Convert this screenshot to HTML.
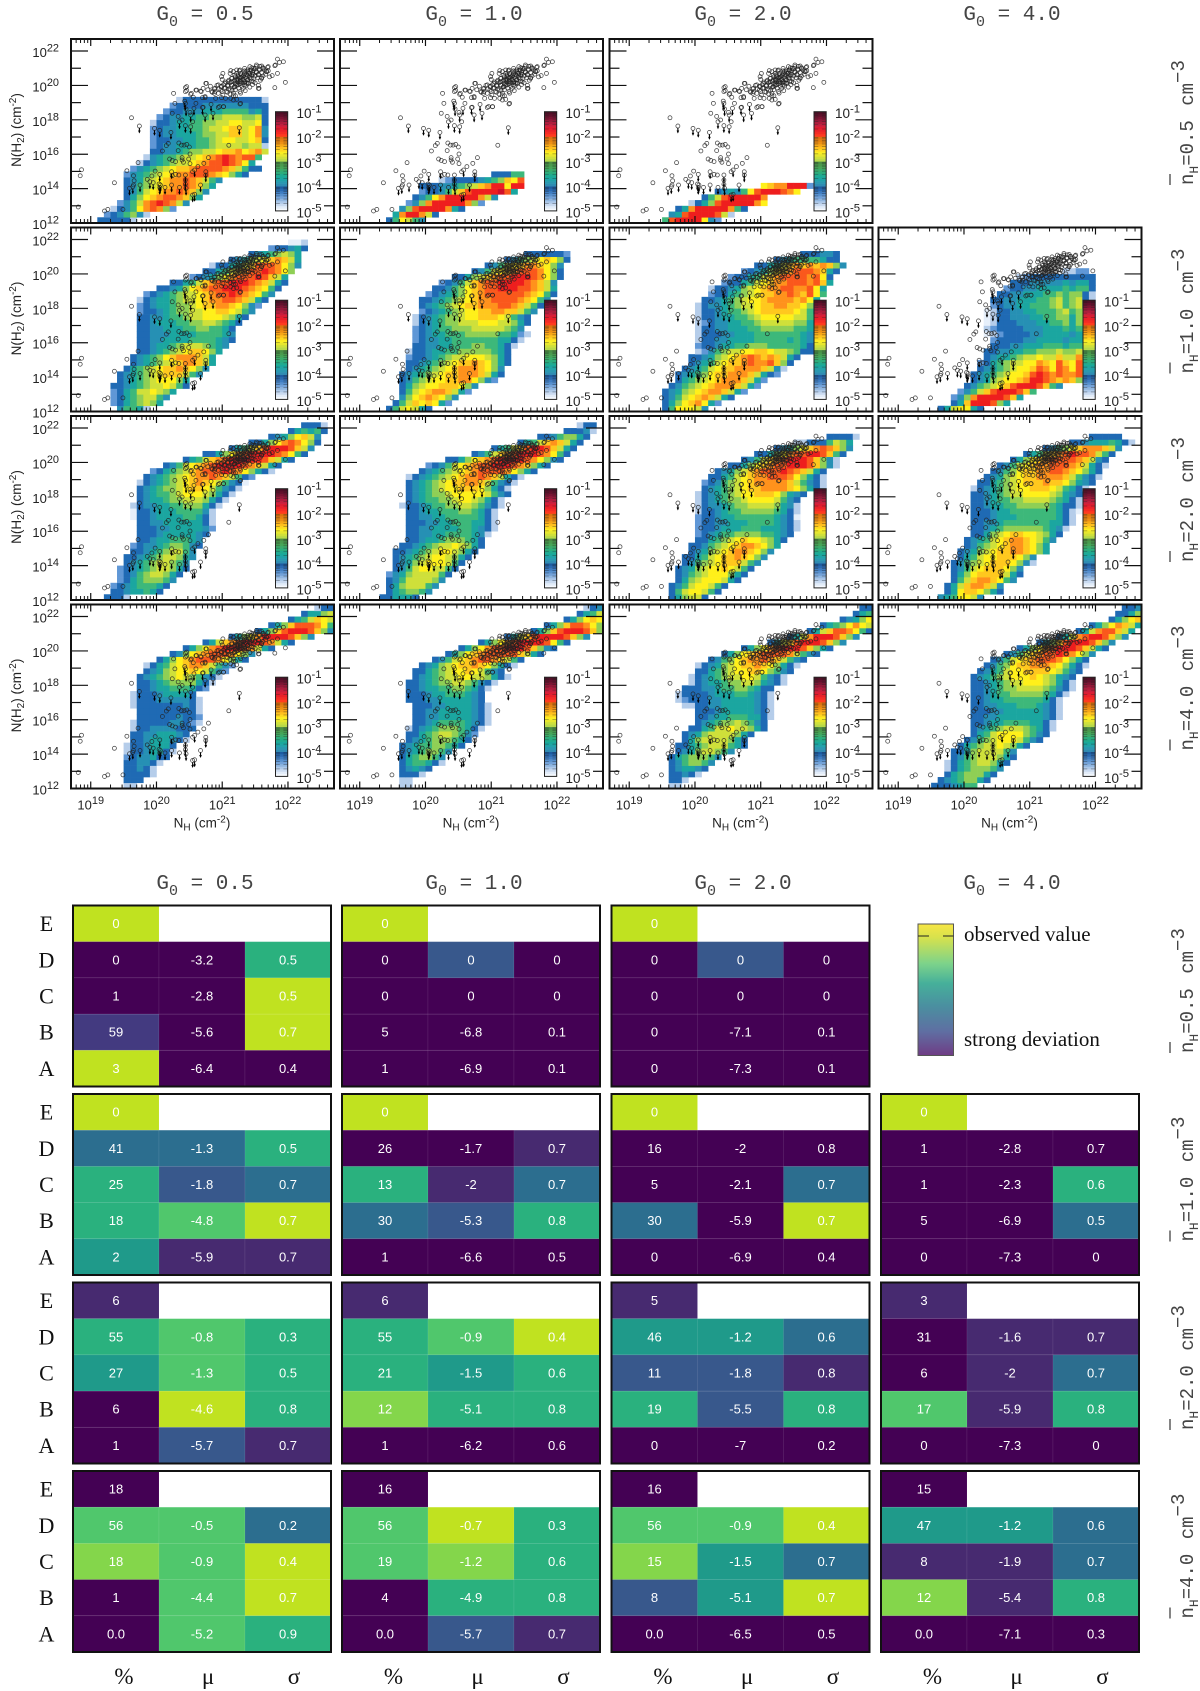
<!DOCTYPE html>
<html lang="en">
<head>
<meta charset="utf-8">
<title>N(H2) versus NH distributions and deviation tables</title>
<style>
html,body{margin:0;padding:0;background:#fff;width:1200px;height:1691px;overflow:hidden}
svg{display:block}
.ax{font-family:"Liberation Sans",sans-serif;fill:#222}
.mono{font-family:"Liberation Mono",monospace;fill:#444}
.ser{font-family:"Liberation Serif",serif;fill:#111}
</style>
</head>
<body>
<svg id="fig" xmlns="http://www.w3.org/2000/svg" width="1200" height="1691" viewBox="0 0 1200 1691">
<defs>
<linearGradient id="legendGrad" x1="0" y1="0" x2="0" y2="1">
<stop offset="0" stop-color="#f7e645"/><stop offset="0.1" stop-color="#d8e24c"/><stop offset="0.3" stop-color="#7dd38a"/><stop offset="0.45" stop-color="#46b09a"/><stop offset="0.62" stop-color="#4a90a0"/><stop offset="0.82" stop-color="#5f6ea2"/><stop offset="1" stop-color="#6f3c85"/>
</linearGradient>
</defs>
<rect width="1200" height="1691" fill="#fff"/>
<g id="heatBlock"></g>
<g id="tableBlock"></g>
<g>
<rect x="918" y="924" width="35.5" height="131.5" fill="url(#legendGrad)" stroke="#555" stroke-width="1"/>
<line x1="918" x2="929" y1="936" y2="936" stroke="#222" stroke-width="1"/>
<line x1="943" x2="953.5" y1="936" y2="936" stroke="#222" stroke-width="1"/>
<text class="ser" x="964" y="941" font-size="21">observed value</text>
<text class="ser" x="964" y="1046" font-size="21">strong deviation</text>
</g>
</svg>
<script>
// ---------- shared axis data ----------
const gLabels = ['0.5','1.0','2.0','4.0'];
const nLabels = ['0.5','1.0','2.0','4.0'];
const xTickDecades = [19,20,21,22];
const yTickDecades = [12,13,14,15,16,17,18,19,20,21,22];
const cbDecades = [-1,-2,-3,-4,-5];
const tableRowNames = ['E','D','C','B','A'];
const tableColNames = ['%','\u03bc','\u03c3'];

// ---------- heat level colours ----------
const heatColors = {'0':'#e6effa','1':'#b5cdea','2':'#5f97d6','3':'#1f6ab4','4':'#2690b4','5':'#1ba6a0','6':'#3db87a','7':'#8fcf55','8':'#cfe03a','9':'#fff01a','a':'#ffc81e','b':'#ff921c','c':'#fa581c','d':'#ee1e1e','e':'#d0102a'};
const tableColors = ['#440154','#472a70','#433a80','#38588c','#2c6e8f','#1f9a8a','#2ab17e','#50c76c','#84d64b','#c0e220'];

// ---------- observations (log10 NH, log10 N(H2)) ----------
const detNH = [18.81,19.21,19.26,19.49,18.84,18.86,19.36,19.55,19.72,19.65,19.66,19.65,19.62,19.86,19.93,19.98,20.24,20.29,20.34,20.55,20.63,20.72,20.79,20.20,20.24,20.29,20.39,20.39,20.41,20.49,20.51,20.09,20.15,20.18,20.34,20.38,20.42,20.46,20.50,20.33,20.51,21.10,20.26,20.24,20.28,20.33,20.44,20.44,20.52,20.60,20.67,20.75,20.56,20.60,20.55,20.51,20.39,20.70,20.74,20.94,21.02,20.90,20.88,20.99,21.05,21.27,21.13,21.17,21.22,21.55,21.80,21.96,21.93,21.84,21.87,21.80,21.84,21.76,21.68,21.60,21.57,21.62,21.69,21.52,21.45,21.39,
20.95,20.98,21.0,21.02,21.05,21.05,21.08,21.08,21.1,21.1,21.12,21.12,21.15,21.15,21.15,21.18,21.18,21.2,21.2,21.2,21.22,21.22,21.24,21.24,21.25,21.26,21.27,21.28,21.28,21.3,21.3,21.3,21.32,21.33,21.34,21.35,21.36,21.36,21.38,21.38,21.4,21.4,21.42,21.43,21.44,21.45,21.46,21.48,21.48,21.5,21.5,21.52,21.54,21.55,21.56,21.58,21.6,21.62,21.64,21.66,21.7,21.72,21.55,21.28,21.2,21.35,21.42,21.0,20.92,20.88,20.85,20.82,20.78,21.46,21.34,21.26,21.22,
20.89,20.94,20.99,21.04,21.09,21.14,21.19,21.22,21.24,21.27,21.29,21.32,21.34,21.37,21.39,21.42,21.44,21.47,21.50,21.52,21.57,21.62,21.67,21.70,21.24,21.29,21.34,21.14,21.19,21.12,21.17,21.27,21.22,21.34,21.42,21.52,21.60,21.39,21.44,21.47,21.32,21.27,21.17,21.17,21.28,21.12,21.06,21.01,20.94,20.89,20.84,20.76,20.71,20.68,20.53,20.61,20.46,20.46,20.74,20.96,21.02,20.71,20.99,21.01,21.13,21.34,21.37,21.24,21.28,21.32,21.37,21.42,21.22,21.14,21.09,21.03,20.98,21.19,21.39,21.47,21.55,21.60,21.56,21.81];
const detNH2 = [12.93,12.70,12.79,12.79,14.75,15.10,14.34,15.04,15.51,14.75,14.46,14.21,18.12,14.54,14.73,15.02,14.75,14.83,14.79,14.98,15.28,15.47,15.80,15.72,15.64,15.57,15.80,15.66,15.53,15.72,15.45,16.19,16.50,16.63,16.65,16.53,16.53,16.57,16.42,16.21,16.01,16.52,19.54,18.38,18.96,18.20,19.87,19.64,19.48,19.73,19.67,20.12,19.31,18.96,17.89,18.43,17.99,19.29,19.29,18.72,18.76,19.25,19.54,19.29,19.25,18.92,19.25,19.40,19.19,19.83,19.87,20.18,21.38,21.53,21.34,21.15,20.70,20.57,20.80,20.45,21.11,21.03,21.05,21.09,21.03,20.90,
19.8,19.95,19.65,20.05,19.85,20.2,19.6,20.0,20.3,19.8,20.15,19.5,20.4,20.0,19.7,20.25,19.9,20.5,20.1,19.75,20.35,20.0,20.6,20.2,19.85,20.45,20.1,20.3,20.7,20.2,20.5,19.95,20.35,20.6,20.15,20.45,20.8,20.0,20.3,20.55,20.7,20.15,20.45,20.9,20.25,20.6,20.75,20.4,21.0,20.55,20.15,20.8,20.45,20.65,20.95,20.3,20.75,20.55,20.9,20.65,20.85,20.5,20.0,19.55,19.4,19.7,19.9,20.35,20.0,19.8,19.6,19.95,19.75,20.05,20.85,20.85,20.7,
19.83,20.03,19.93,20.12,20.22,20.03,20.32,20.12,20.51,20.22,20.61,20.32,20.70,20.41,20.80,20.55,20.90,20.66,20.99,20.74,20.90,20.99,20.80,21.09,20.03,20.12,20.03,20.41,20.61,20.70,20.80,20.90,20.90,20.99,21.09,21.19,21.13,20.32,20.41,20.22,19.83,19.64,19.54,19.15,18.96,19.73,19.64,19.44,19.54,19.64,19.64,20.12,19.83,19.64,19.54,19.73,19.93,19.70,19.35,18.77,18.77,18.73,20.51,20.70,20.86,20.22,20.12,20.35,20.47,20.55,20.66,20.70,20.28,20.22,19.97,19.83,19.73,19.93,20.12,20.86,20.61,20.41,19.83,21.19];
const limNH = [19.74,19.97,20.05,20.22,19.59,19.64,19.75,19.90,19.95,20.05,20.04,20.05,20.06,20.13,20.23,20.23,20.35,20.44,20.44,20.44,20.45,20.55,20.58,20.67,20.75,20.75,20.58,21.26,20.35,20.43,20.44,20.45,20.52,20.57,20.44,20.52,20.70,20.74,20.86,20.83];
const limNH2 = [17.64,17.50,17.39,17.27,14.02,14.11,14.21,14.40,14.35,14.83,14.27,14.07,14.21,14.07,14.21,14.98,14.07,14.79,14.50,14.25,14.02,13.63,13.67,14.21,14.98,14.79,15.08,17.54,17.89,19.09,18.96,18.63,18.28,18.67,17.66,17.60,18.71,18.28,18.38,18.90];

// ---------- heatmap grids: each row "startColumn levels", bottom row first ----------
const heat_n05_g05 = ['4 333331','5 2346741','6 13469bcb72','7 2468bcdcb84','8 3579abccba75','8 34689abbcba74','8 346789abbcba75','8 345789abbcba864','8 2456789abbcccba9753','9 2456789aabccccba8633','10 134567889abccdcb95','11 145667889abcdcbcc6','12 33445677889aab9ab8','12 234455566788887881','12 2334455667899889a3','12 234455567788aa89b4','12 234455667889aa89b4','12 133455667788998893','13 23445566778887783','14 2334445556666453','15 233334444444333','16 13333333333331'];
const heat_n05_g10 = ['7 369864','8 5bddb83','9 47cddddb53','10 247bdddddb72','11 3469bdddddb84','12 233468acddddec5','12 333445678abdd9dd','15 1233334567a9c','23 33366'];
const heat_n05_g20 = ['8 6cdddd942','9 45cddddc81','10 35bdddddb63','12 1357cdddddb9','14 368cdddddb','16 345469cdddcb9','23 9abbddd2'];
const heat_n10_g05 = ['7 46651','6 23567875','6 235678864','6 2356889875','6 334567889863','7 34567899975','7 3456789aaa864','8 356789aaba974','9 3456789abba85','9 345679abbba85','10 33456789aa975','10 33455678887654','10 334455556666543','10 334445555666654','10 334455566776653','10 3345556677887653','10 33445667889998753','10 233456778899aa9864','10 2345567789aabba9742','10 1345567889abbccba853','11 234567889abccdcba964','13 334579abccdddcba963','15 33568abccdddcba853','18 234579bcccdca85','20 33568abccdcb97','21 133568acccb974','24 345789aba85','27 34567875','30 233453','33 001'];
const heat_n10_g10 = ['7 3689853','8 368a9a952','9 479aba974','9 3689abba852','9 357899aaa974','9 3467899aabb9742','9 3456789aabbba853','10 3456789abbba974','10 33456789aaba9753','10 2334567889998753','10 1334556677777653','11 3344556667766531','11 23445566666665531','11 234556667777766521','11 23456677788888764','11 134567788899988753','11 1345677899aaa98643','12 234567899aabbaa864','12 3456789aabbbccba863','12 3345678 9abbccccba964','13 234567 9abccccccba963','14 33467 9abccdddccba85','15 23468abccddddcba84','17 33578abccdddcb973','20 34689abcccb973','22 34689abba974','25 3467 89a973','28 3333332'];
const heat_n10_g20 = ['8 3699984','8 357 9ab952','8 34689aba853','8 3457 89abba852','9 346789abbba852','10 356789abbba852','10 3456 79aabbba8532','11 345689aabbbba841','12 345689aabcbbca73','12 33457 89abcbaba853','13 124678899aa9887633','13 233455667776666653','13 133445555666665654','13 133344555666666654','13 133445556677777665','13 123445566788888775','13 133455667899999886','13 1334566789aaaaa9863','13 1344567889aabbaa973','14 33456789 9abbbbab95','15 233567 89aabbcbac96','15 13345789abbccbbc95','17 233568 9abbcccbca5','18 233568abccccbc93','20 234579abcccba53','22 335 68abababa74','25 3456666533','29 333443'];
const heat_n10_g40 = ['9 3589953','11 35adddc75','11 247bddddca5','12 24 68acdddca6','13 3467 89acdddca64','14 3457 899abddcbaba72','14 345678 99acdcbcbbc84','15 3456 7899acb9cb9c95','15 235678899ba9ca9c96','16 3455678898 8a88b84','16 33445566777877874','17 3334455566656663','17 2333344555545553','16 01233334455554553','16 12333344455565663','16 01333444556675773','16 01334445566775783','16 01334455666786783','17 2344556 6678678 31','17 3344555667867831','18 33445556676773 1','19 2334455556566 3','20 3334444454553','21 123333333333','28 1122'];
const heat_n20_g05 = ['5 3331','6 33455653','6 234566653','7 235677764','7 2346788753','7 23456788753','8 3456788764','8 33456788754','9 3345678864','9 23445677643','10 3345566654','10 33345555543','10 333445555542','10 334455555531','9 0334555566531','9 0334555666641','9 13445566777531','10 34556778887531','10 345667899987531','10 3456778 9aa98643 1','10 13456789aba98643 0','11 34567 89abbcba86 32','12 2356 78abcccdcb97531','14 34689abcddddcba853','17 356 8abcddeddca853','20 33579bcddddcb963','24 35 68acdddca84','27 3357 9bcb973','30 34579a84','33 356563','35 3331'];
const heat_n20_g10 = ['6 335553','7 3567764','7 35788864','7 346888874','7 2457888863','8 3468998863','8 34578999863','8 345678998753','8 3345678998753','9 3345678898753','10 334556777653','10 3344556666541','10 33445555665431','10 33344556665531','10 33445566666531','10 33455666776531','9 1334566778876431','10 345667789987531','10 3456778 999998643','10 3456789 9aaa97531','10 34567 89aabba86431','10 134567 89abbcba85 31','12 345678 9abccccb97 53','13 234689abccdddcba753','16 33579abcddddcb9743','20 34 68abcdddcb963','23 3568acddca853','27 3568aba853','30 33467753','34 33341','36 133'];
const heat_n20_g20 = ['9 357883','9 36899863','9 346899863','10 3578999853','10 34678 99975 3','10 34 5789 9a98 63','11 346789aaa864','11 33568 9aaba974','12 3457 89abba974','12 33467 89abba975','13 33567 89a99 87 53','13 234566777766543','13 2334555666555431','13 2334 4555666 65431','13 2334556666665430','13 1334566777776531','13 1344567788887541','13 13456778999986 43','13 134567899aaa97543','14 345678 9aabbbba97531','14 234678 9abbbbba86431','15 33568 9abbcccb97531','16 34578abcccdcba853','18 33579abccdddca741','20 34 68abcdddca741','22 33579bccddca63','25 34579abcba74','28 11333687 5','33 33331'];
const heat_n20_g40 = ['9 4569984','10 359aa9753','10 358abba84','11 368abba964','11 3579aaaa853','11 3468 9aaa974','11 34678 9aaa9741','12 3568 99aaa974','12 34 5789aabba975','13 346789abba975','13 34 5689abba9864','14 335789aa99 8753','14 334567777776541','14 3344566666665531','14 3334555666666531','14 33345566666665310','14 33455667777765331','14 33456677888876531','14 334567889999 87543','14 134567899aaa986531','15 33567 89aaabaa97543','16 34578 9aabbbba86431','17 34679aabbccba97 53','18 34689abbcccba8531','20 3579abccccba843','22 35 68abcdccb863','25 34679abbba84','29 334555 6531','32 33333'];
const heat_n40_g05 = ['8 11','8 333','8 33331','8 334 31','8 334431','8 2344533','8 13345531','8 13345553','9 334555431','9 334455543','9 1334444333','9 13333344321','10 3333334332','10 3333333331','9 13333333431','9 13334444431','9 1333455553','10 33455666532','10 334567777531','10 3456789876431','11 34578 99a98642','11 13568 9abba8642','13 3579abcccb9753','15 347 9abcccb974','17 3579bcdddcb853','20 358abcdddcb853','24 3579bddddca74','28 357acdddca74','30 357acccb963','33 3568a98','35 35578','37 133'];
const heat_n40_g10 = ['9 11','9 11','9 3331','9 34543','9 3566531','9 356776 4','9 34567764','9 3456677653','10 3456777653','10 33567887642','10 134567776531','11 334566665431','11 334455555431','11 334455555431','11 333445555431','10 333445555543','10 333455666 543','10 3345566776531','10 33456778876431','11 34567889988 7531','11 335678 99a986 43','12 345 789aaba97531','14 34689abccba863','16 3579abccccca853','18 3579bccdddca743','21 3579bcddddc963','25 358acddddca74','29 357acdddca74','31 357accb974','34 3579a9','36 3568','37 134'];
const heat_n40_g20 = ['9 11','9 331','9 33431','9 345543','9 3467764','9 35677764','10 345788764','10 33567888653','11 3578888753','11 34578888753','12 335688988753','13 34567787643','13 334556665531','13 333455555431','11 11334455555431','10 123334455555431','10 13333455566 5431','11 33344566776533','12 134556778875431','12 13456788998 6431','13 33567899aa97643','13 1345789aaba97531','15 34679abbcba8643','17 3579abccccb8643','20 3579bcdddca753','24 358acdddca74','27 358bdddca74','30 358accb963','32 35679b985 3','35 34579','37 356','38 33'];
const heat_n40_g40 = ['8 3334566','9 34567753','10 35677753','10 135677764','10 1356788753','11 3467888753','11 3357888864','12 35678898753','13 346789998643','14 356899997643','14 3456788876531','14 3345566665531','14 33445555555431','14 33344555555431','14 33445556665431','14 33455666666531','14 334566777776531','14 3345677888876431','14 3345678899987531','14 345678999a987543','15 345689 9aaaa98643','16 346 79aabbba97531','17 34689abcccb97 53','19 34 68abccdcb974','21 3579bcdddca853','24 357acdddca74','27 358bcddca74','30 358bcca85','32 3579ba85','35 3579a','36 3357','37 334'];
const heatPanels = [
 [heat_n05_g05, heat_n05_g10, heat_n05_g20, null],
 [heat_n10_g05, heat_n10_g10, heat_n10_g20, heat_n10_g40],
 [heat_n20_g05, heat_n20_g10, heat_n20_g20, heat_n20_g40],
 [heat_n40_g05, heat_n40_g10, heat_n40_g20, heat_n40_g40]];

// ---------- colour bar samples (log10 fraction, colour) ----------
const cbLog = [-5,-4.9,-4.8,-4.7,-4.6,-4.5,-4.4,-4.3,-4.2,-4.1,-4,-3.9,-3.8,-3.7,-3.6,-3.5,-3.4,-3.3,-3.2,-3.1,-3,-2.9,-2.8,-2.7,-2.6,-2.5,-2.4,-2.3,-2.2,-2.1,-2,-1.9,-1.8,-1.7,-1.6,-1.5,-1.4,-1.3,-1.2,-1.1];
const cbCol = ['#f6f9fd','#e2ecf8','#c9daf0','#adc8e8','#90b6e0','#73a2d8','#5790ce','#3f7dc2','#2a6ab2','#1c5ca2','#2f8cb2','#2a98b0','#20a2a8','#1aa89c','#20ab8e','#2dad7c','#3cab6a','#46a558','#4a9a4e','#4a8f45','#b8d94a','#cfe03c','#e8e72e','#fbee22','#ffd820','#ffc01e','#f7a718','#ee9014','#e58010','#de700e','#ff3a20','#f42c24','#ea2028','#de1c30','#c81e3c','#ae1c3c','#941838','#7c1433','#64102c','#520e27'];

// ---------- deviation tables: rows E,D,C,B,A ----------
const tbl_n05_g05=['0','0 -3.2 0.5','1 -2.8 0.5','59 -5.6 0.7','3 -6.4 0.4'], lev_n05_g05=['9','006','009','209','900'];
const tbl_n05_g10=['0','0 0 0','0 0 0','5 -6.8 0.1','1 -6.9 0.1'], lev_n05_g10=['9','030','000','000','000'];
const tbl_n05_g20=['0','0 0 0','0 0 0','0 -7.1 0.1','0 -7.3 0.1'], lev_n05_g20=['9','030','000','000','000'];
const tbl_n10_g05=['0','41 -1.3 0.5','25 -1.8 0.7','18 -4.8 0.7','2 -5.9 0.7'], lev_n10_g05=['9','446','634','679','511'];
const tbl_n10_g10=['0','26 -1.7 0.7','13 -2 0.7','30 -5.3 0.8','1 -6.6 0.5'], lev_n10_g10=['9','001','614','436','000'];
const tbl_n10_g20=['0','16 -2 0.8','5 -2.1 0.7','30 -5.9 0.7','0 -6.9 0.4'], lev_n10_g20=['9','000','004','409','000'];
const tbl_n10_g40=['0','1 -2.8 0.7','1 -2.3 0.6','5 -6.9 0.5','0 -7.3 0'], lev_n10_g40=['9','000','006','004','000'];
const tbl_n20_g05=['6','55 -0.8 0.3','27 -1.3 0.5','6 -4.6 0.8','1 -5.7 0.7'], lev_n20_g05=['1','676','576','096','031'];
const tbl_n20_g10=['6','55 -0.9 0.4','21 -1.5 0.6','12 -5.1 0.8','1 -6.2 0.6'], lev_n20_g10=['1','679','656','866','000'];
const tbl_n20_g20=['5','46 -1.2 0.6','11 -1.8 0.8','19 -5.5 0.8','0 -7 0.2'], lev_n20_g20=['1','554','331','636','000'];
const tbl_n20_g40=['3','31 -1.6 0.7','6 -2 0.7','17 -5.9 0.8','0 -7.3 0'], lev_n20_g40=['1','011','014','716','000'];
const tbl_n40_g05=['18','56 -0.5 0.2','18 -0.9 0.4','1 -4.4 0.7','0.0 -5.2 0.9'], lev_n40_g05=['0','774','879','079','076'];
const tbl_n40_g10=['16','56 -0.7 0.3','19 -1.2 0.6','4 -4.9 0.8','0.0 -5.7 0.7'], lev_n40_g10=['0','796','786','066','031'];
const tbl_n40_g20=['16','56 -0.9 0.4','15 -1.5 0.7','8 -5.1 0.7','0.0 -6.5 0.5'], lev_n40_g20=['0','779','854','359','000'];
const tbl_n40_g40=['15','47 -1.2 0.6','8 -1.9 0.7','12 -5.4 0.8','0.0 -7.1 0.3'], lev_n40_g40=['0','554','114','816','000'];
const tableValues=[[tbl_n05_g05,tbl_n05_g10,tbl_n05_g20,null],[tbl_n10_g05,tbl_n10_g10,tbl_n10_g20,tbl_n10_g40],[tbl_n20_g05,tbl_n20_g10,tbl_n20_g20,tbl_n20_g40],[tbl_n40_g05,tbl_n40_g10,tbl_n40_g20,tbl_n40_g40]];
const tableLevels=[[lev_n05_g05,lev_n05_g10,lev_n05_g20,null],[lev_n10_g05,lev_n10_g10,lev_n10_g20,lev_n10_g40],[lev_n20_g05,lev_n20_g10,lev_n20_g20,lev_n20_g40],[lev_n40_g05,lev_n40_g10,lev_n40_g20,lev_n40_g40]];

// ---------- helpers ----------
const NS='http://www.w3.org/2000/svg';
function mk(parent,tag,attrs){const e=document.createElementNS(NS,tag);for(const k in attrs)e.setAttribute(k,attrs[k]);parent.appendChild(e);return e;}
function label10(parent,exp,x,y,fs,anchor,cls){
  const t=mk(parent,'text',{x:x,y:y,'font-size':fs,'text-anchor':anchor,'class':cls||'ax'});
  t.innerHTML='10<tspan dy="'+(-fs*0.42)+'" font-size="'+(fs*0.84)+'">'+exp+'</tspan>';
  return t;
}
function rightLabel(parent,val,y){
  const t=mk(parent,'text',{transform:'translate(1193,'+y+') rotate(-90)','font-size':19,'class':'mono',style:'white-space:pre'});
  t.innerHTML='n<tspan dy="5" font-size="13">H</tspan><tspan dy="-5">='+val+' </tspan><tspan dx="3">cm</tspan><tspan dy="-9">\u22123</tspan>';
  
  
  const l=mk(parent,'line',{x1:1170,x2:1170,y1:y,y2:y-11,stroke:'#333','stroke-width':1.2});
  
  
}
function colTitle(parent,val,x,y){
  const t=mk(parent,'text',{x:x,y:y,'font-size':21,'text-anchor':'middle','class':'mono'});
  t.innerHTML='G<tspan dy="6" font-size="15">0</tspan><tspan dy="-6"> = '+val+'</tspan>';
  
  
}

// ---------- heat panels ----------
const panelX=[71,340,609.5,878.5], panelY=[39,227.5,416,604.5], PW=263, PH=184;
const xMin=18.7,xMax=22.7,yMin=12,yMax=22.7;
const binX=0.1,binY=1/3;
const heatRoot=document.getElementById('heatBlock');
gLabels.forEach((g,i)=>colTitle(heatRoot,g,205+269*i,20));
nLabels.forEach((n,i)=>rightLabel(heatRoot,n,185+188.5*i));

heatPanels.forEach((rowPanels,r)=>rowPanels.forEach((grid,c)=>{
  if(!grid)return;
  const px=panelX[c],py=panelY[r];
  const sx=v=>px+(v-xMin)/(xMax-xMin)*PW;
  const sy=v=>py+PH-(v-yMin)/(yMax-yMin)*PH;
  const g=mk(heatRoot,'g',{});
  
  
  const clipId='clip'+r+c;
  const cp=mk(g,'clipPath',{id:clipId});
  mk(cp,'rect',{x:px,y:py,width:PW,height:PH});
  const heat=mk(g,'g',{'clip-path':'url(#'+clipId+')'});
  
  
  grid.forEach((rowStr,j)=>{
    const sp=rowStr.indexOf(' ');
    const start=parseInt(rowStr.slice(0,sp),10);
    const levels=rowStr.slice(sp+1).replace(/ /g,'');
    for(let k=0;k<levels.length;k++){
      const x0=xMin+binX*(start+k), y0=yMin+binY*j;
      const cell=mk(heat,'rect',{x:sx(x0),y:sy(y0+binY),width:sx(x0+binX)-sx(x0)+0.3,height:sy(y0)-sy(y0+binY)+0.3,fill:heatColors[levels[k]]});
      
      
    }
  });
  // colour bar
  const barX=px+204.5,barW=12.2,barTop=py+72.7,barDec=24.8;
  const cy=v=>barTop+(-1-v)*barDec;
  const bar=mk(g,'g',{});
  
  
  cbLog.forEach((v,i)=>{
    const rc=mk(bar,'rect',{x:barX,y:cy(v+0.1),width:barW,height:barDec*0.1+0.3,fill:cbCol[i]});
    
    
  });
  [2,3,4,5,6,7,8,9].forEach(m=>{
    [-5,-4,-3,-2].forEach(d=>{
      const yy=cy(d+Math.log10(m));
      mk(bar,'line',{x1:barX,x2:barX+barW*0.35,y1:yy,y2:yy,stroke:'#222','stroke-opacity':0.45,'stroke-width':0.7});
      mk(bar,'line',{x1:barX+barW*0.65,x2:barX+barW,y1:yy,y2:yy,stroke:'#222','stroke-opacity':0.45,'stroke-width':0.7});
    });
  });
  mk(bar,'rect',{x:barX,y:barTop,width:barW,height:barDec*4,fill:'none',stroke:'#222','stroke-width':1});
  cbDecades.forEach(d=>{
    const t=label10(bar,String(d),px+225.5,cy(d)+6.5,13.5,'start');
    
    
  });
  // observations
  const pts=mk(g,'g',{'clip-path':'url(#'+clipId+')'});
  
  
  detNH.forEach((v,i)=>{
    const m=mk(pts,'circle',{cx:sx(v),cy:sy(detNH2[i]),r:2,fill:'none',stroke:'#222','stroke-width':0.75,'stroke-opacity':0.85});
    
    
  });
  limNH.forEach((v,i)=>{
    const X=sx(v),Y=sy(limNH2[i]);
    const m=mk(pts,'circle',{cx:X,cy:Y,r:2,fill:'none',stroke:'#222','stroke-width':0.75,'stroke-opacity':0.85});
    
    
    mk(pts,'line',{x1:X,x2:X,y1:Y+2,y2:Y+6.5,stroke:'#000','stroke-width':1.1});
    mk(pts,'path',{d:'M'+(X-1.3)+' '+(Y+4.5)+'L'+(X+1.3)+' '+(Y+4.5)+'L'+X+' '+(Y+7.5)+'Z',fill:'#000'});
  });
  // ticks
  const ticks=mk(g,'g',{stroke:'#111'});
  
  
  xTickDecades.forEach(d=>{
    [py,py+PH].forEach((yy,q)=>{
      const s=q?-1:1;
      mk(ticks,'line',{x1:sx(d),x2:sx(d),y1:yy,y2:yy+s*7,'stroke-width':1.2});
    });
  });
  for(let d=18;d<=22;d++)for(let m=2;m<=9;m++){
    const v=d+Math.log10(m);
    if(v<xMin||v>xMax)continue;
    mk(ticks,'line',{x1:sx(v),x2:sx(v),y1:py,y2:py+4,'stroke-width':1});
    mk(ticks,'line',{x1:sx(v),x2:sx(v),y1:py+PH,y2:py+PH-4,'stroke-width':1});
  }
  yTickDecades.forEach(d=>{
    const len=d%2?10:17;
    mk(ticks,'line',{x1:px,x2:px+len,y1:sy(d),y2:sy(d),'stroke-width':1.2});
    mk(ticks,'line',{x1:px+PW,x2:px+PW-len,y1:sy(d),y2:sy(d),'stroke-width':1.2});
  });
  const frame=mk(g,'rect',{x:px,y:py,width:PW,height:PH,fill:'none',stroke:'#111','stroke-width':2});
  
  
  // labels
  if(c===0){
    yTickDecades.filter(d=>d%2===0).forEach(d=>{
      const t=label10(g,String(d),59,sy(d)+6,13,'end');
      
      
    });
    const yt=mk(g,'text',{transform:'translate(21,'+(py+91)+') rotate(-90)','font-size':13.5,'text-anchor':'middle','class':'ax'});
    yt.innerHTML='N(H<tspan dy="3" font-size="10">2</tspan><tspan dy="-3">) (cm</tspan><tspan dy="-5" font-size="10">-2</tspan><tspan dy="5">)</tspan>';
    
    
  }
  if(r===3){
    xTickDecades.forEach(d=>{
      const t=label10(g,String(d),sx(d),py+PH+21,13,'middle');
      
      
    });
    const xt=mk(g,'text',{x:px+131,y:py+PH+39,'font-size':13.5,'text-anchor':'middle','class':'ax'});
    xt.innerHTML='N<tspan dy="3" font-size="10">H</tspan><tspan dy="-3"> (cm</tspan><tspan dy="-5" font-size="10">-2</tspan><tspan dy="5">)</tspan>';
    
    
  }
}));

// ---------- tables ----------
const tabX=[73,342,611.5,881], tabY=[905.5,1094,1282.5,1471], TW=258, TH=181;
const tableRoot=document.getElementById('tableBlock');
gLabels.forEach((g,i)=>colTitle(tableRoot,g,205+269*i,889));
nLabels.forEach((n,i)=>rightLabel(tableRoot,n,1053+188.5*i));
const colOffsets=[124,208,294];
[0,1,2,3].forEach(c=>colOffsets.forEach((o,k)=>{
  const t=mk(tableRoot,'text',{x:o+269.5*c,y:1684,'font-size':23,'text-anchor':'middle','class':'ser'});
  t.textContent=tableColNames[k];
  
  
}));
tabY.forEach((ty,r)=>tableRowNames.forEach((n,k)=>{
  const t=mk(tableRoot,'text',{x:46.5,y:ty+TH/5*(k+0.5)+7.5,'font-size':22,'text-anchor':'middle','class':'ser'});
  t.textContent=n;
  
  
}));
tableValues.forEach((rowT,r)=>rowT.forEach((vals,c)=>{
  if(!vals)return;
  const lv=tableLevels[r][c];
  const x0=tabX[c],y0=tabY[r],cw=TW/3,ch=TH/5;
  const g=mk(tableRoot,'g',{});
  
  
  vals.forEach((row,ri)=>{
    row.split(' ').forEach((v,ci)=>{
      const rc=mk(g,'rect',{x:x0+ci*cw,y:y0+ri*ch,width:cw,height:ch,fill:tableColors[+lv[ri][ci]],stroke:'#fff','stroke-opacity':0.08,'stroke-width':0.8});
      
      
      const t=mk(g,'text',{x:x0+ci*cw+cw/2,y:y0+ri*ch+ch/2+4.5,'font-size':13,'text-anchor':'middle','class':'ax',style:'fill:#fff'});
      t.textContent=v;
      
      
    });
  });
  const f=mk(g,'rect',{x:x0,y:y0,width:TW,height:TH,fill:'none',stroke:'#111','stroke-width':2});
  
  
}));
</script>
</body>
</html>
